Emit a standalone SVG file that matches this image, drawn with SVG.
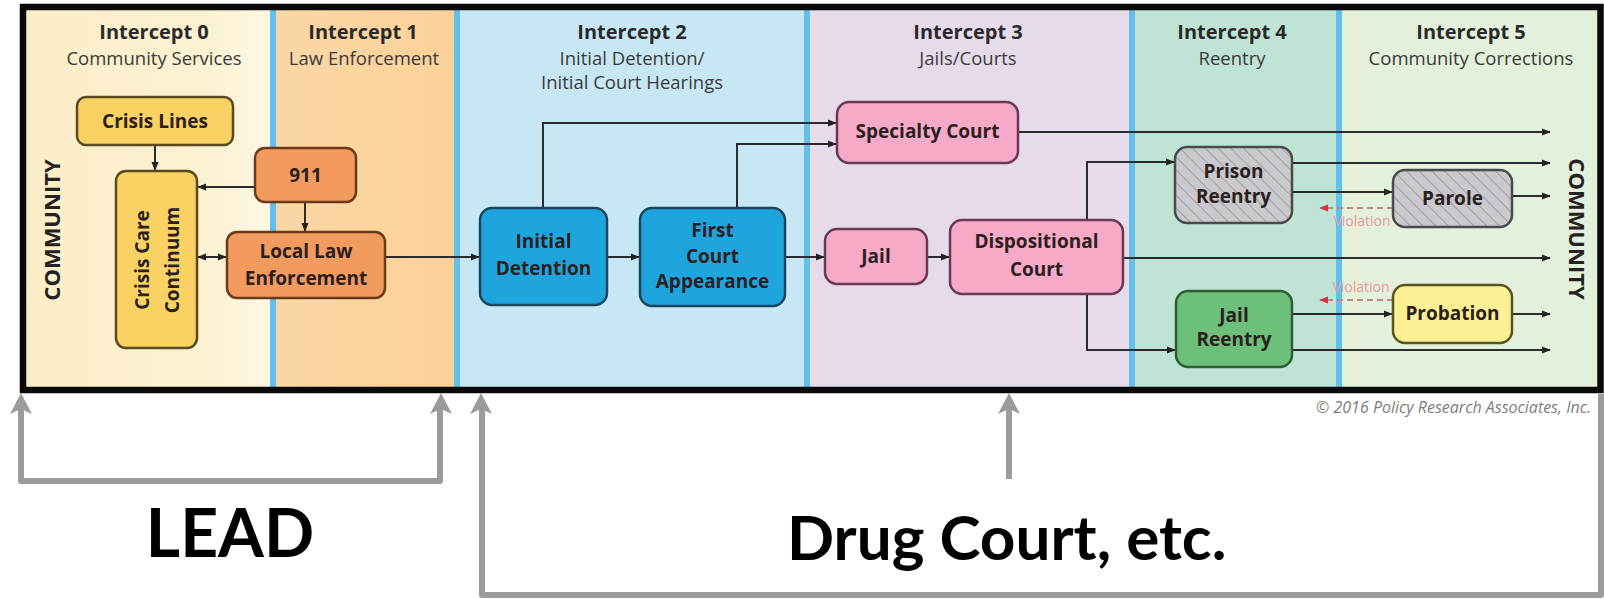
<svg xmlns="http://www.w3.org/2000/svg" width="1604" height="599" viewBox="0 0 1604 599">
<defs>
  <linearGradient id="g0" x1="0" x2="1" y1="0" y2="0">
    <stop offset="0" stop-color="#fbeec8"/>
    <stop offset="0.75" stop-color="#fcf1d2"/>
    <stop offset="1" stop-color="#fdf7e5"/>
  </linearGradient>
  <linearGradient id="g1" x1="0" x2="1" y1="0" y2="0">
    <stop offset="0" stop-color="#fbd7a6"/>
    <stop offset="1" stop-color="#fbd198"/>
  </linearGradient>
  <pattern id="hatch" patternUnits="userSpaceOnUse" width="9" height="9" patternTransform="rotate(-45)">
    <rect width="9" height="9" fill="#cacace"/>
    <line x1="0" y1="0" x2="0" y2="9" stroke="#9d9da3" stroke-width="2"/>
  </pattern>
  <marker id="arr" viewBox="0 0 10 10" refX="9" refY="5" markerWidth="9" markerHeight="9" markerUnits="userSpaceOnUse" orient="auto-start-reverse">
    <path d="M0,1 L10,5 L0,9 z" fill="#222"/>
  </marker>
  <marker id="arrR" viewBox="0 0 10 10" refX="9" refY="5" markerWidth="9" markerHeight="9" markerUnits="userSpaceOnUse" orient="auto">
    <path d="M0,1 L10,5 L0,9 z" fill="#d3303f"/>
  </marker>
  <style>
    .hd{font-family:"Open Sans","DejaVu Sans",sans-serif;font-weight:700;font-size:20px;fill:#2a2a2a;text-anchor:middle}
    .sub{font-family:"Open Sans","DejaVu Sans",sans-serif;font-size:18.5px;fill:#3a3a3a;text-anchor:middle}
    .lbl{font-family:"Open Sans","DejaVu Sans",sans-serif;font-weight:700;font-size:19px;fill:#2b2020;text-anchor:middle}
    .com{font-family:"Open Sans","DejaVu Sans",sans-serif;font-weight:700;font-size:22px;fill:#222;text-anchor:middle}
    .vio{font-family:"Open Sans","DejaVu Sans",sans-serif;font-size:14px;fill:#e59aa6;text-anchor:middle}
    .c{fill:none;stroke:#2b2b2b;stroke-width:2}
    .v{fill:none;stroke:#b98a8e;stroke-width:2;stroke-dasharray:6 4}
    .n{stroke-width:2.5}
    .yel{fill:#f9d263;stroke:#5b4a1e}
    .ora{fill:#f39a5e;stroke:#6a3a1a}
    .blu{fill:#1fa5dd;stroke:#17475e}
    .pnk{fill:#f6aac8;stroke:#6b3852}
    .gry{fill:url(#hatch);stroke:#4a4a4e}
    .grn{fill:#6cc079;stroke:#2f5e33}
    .lyl{fill:#fbf094;stroke:#5a5420}
    .br{fill:none;stroke:#9b9b9b;stroke-width:6;stroke-linejoin:round}
    .big{font-family:Lato,"Open Sans",sans-serif;font-weight:700;fill:#000}
  </style>
</defs>
<rect width="1604" height="599" fill="#fff"/>

<g id="sections">
  <rect x="23" y="7" width="247" height="383" fill="url(#g0)"/>
  <rect x="270" y="7" width="6" height="383" fill="#62c0ec"/>
  <rect x="276" y="7" width="178" height="383" fill="url(#g1)"/>
  <rect x="454" y="7" width="6" height="383" fill="#62c0ec"/>
  <rect x="460" y="7" width="344" height="383" fill="#c8e7f5"/>
  <rect x="804" y="7" width="6" height="383" fill="#62c0ec"/>
  <rect x="810" y="7" width="319" height="383" fill="#e6dbeb"/>
  <rect x="1129" y="7" width="6" height="383" fill="#62c0ec"/>
  <rect x="1135" y="7" width="201" height="383" fill="#bfe4d6"/>
  <rect x="1336" y="7" width="6" height="383" fill="#62c0ec"/>
  <rect x="1342" y="7" width="258" height="383" fill="#e3f0dc"/>
  <rect x="1355" y="7" width="3" height="383" fill="#f1eccb"/>
</g>

<g id="headers">
  <text class="hd" x="154" y="39">Intercept 0</text>
  <text class="sub" x="154" y="65">Community Services</text>
  <text class="hd" x="363" y="39">Intercept 1</text>
  <text class="sub" x="364" y="65">Law Enforcement</text>
  <text class="hd" x="632" y="39">Intercept 2</text>
  <text class="sub" x="632" y="65">Initial Detention/</text>
  <text class="sub" x="632" y="89">Initial Court Hearings</text>
  <text class="hd" x="968" y="39">Intercept 3</text>
  <text class="sub" x="968" y="65">Jails/Courts</text>
  <text class="hd" x="1232" y="39">Intercept 4</text>
  <text class="sub" x="1232" y="65">Reentry</text>
  <text class="hd" x="1471" y="39">Intercept 5</text>
  <text class="sub" x="1471" y="65">Community Corrections</text>
  <text class="com" transform="translate(60,230) rotate(-90)">COMMUNITY</text>
  <text class="com" transform="translate(1569,229) rotate(90)">COMMUNITY</text>
</g>

<g id="connectors">
  <path class="c" d="M155,145 V170" marker-end="url(#arr)"/>
  <path class="c" d="M255,187 H198" marker-end="url(#arr)"/>
  <path class="c" d="M305,202 V231" marker-end="url(#arr)"/>
  <path class="c" d="M198,257 H226" marker-start="url(#arr)" marker-end="url(#arr)"/>
  <path class="c" d="M385,257 H479" marker-end="url(#arr)"/>
  <path class="c" d="M607,257 H639" marker-end="url(#arr)"/>
  <path class="c" d="M785,257 H824" marker-end="url(#arr)"/>
  <path class="c" d="M927,257 H949" marker-end="url(#arr)"/>
  <path class="c" d="M543,208 V123 H836" marker-end="url(#arr)"/>
  <path class="c" d="M737,208 V144 H836" marker-end="url(#arr)"/>
  <path class="c" d="M1018,132 H1550" marker-end="url(#arr)"/>
  <path class="c" d="M1087,220 V162 H1174" marker-end="url(#arr)"/>
  <path class="c" d="M1123,258 H1550" marker-end="url(#arr)"/>
  <path class="c" d="M1087,294 V350 H1175" marker-end="url(#arr)"/>
  <path class="c" d="M1292,163 H1550" marker-end="url(#arr)"/>
  <path class="c" d="M1292,192 H1392" marker-end="url(#arr)"/>
  <path class="c" d="M1512,196 H1550" marker-end="url(#arr)"/>
  <path class="c" d="M1292,314 H1392" marker-end="url(#arr)"/>
  <path class="c" d="M1512,314 H1550" marker-end="url(#arr)"/>
  <path class="c" d="M1292,350 H1550" marker-end="url(#arr)"/>
  <path class="v" d="M1393,208 H1320" marker-end="url(#arrR)"/>
  <path class="v" d="M1393,300 H1320" marker-end="url(#arrR)"/>
  <text class="vio" x="1362" y="226">Violation</text>
  <text class="vio" x="1361" y="292">Violation</text>
</g>

<g id="crisis-lines"><rect class="n yel" x="77" y="97" width="156" height="48" rx="9"/><text class="lbl" x="155" y="128">Crisis Lines</text></g>
<g id="crisis-care"><rect class="n yel" x="116" y="171" width="81" height="177" rx="10"/>
  <text class="lbl" transform="translate(156.5,260) rotate(-90)" font-size="20"><tspan x="0" y="-8">Crisis Care</tspan><tspan x="0" y="22">Continuum</tspan></text></g>
<g id="n911"><rect class="n ora" x="255" y="148" width="101" height="54" rx="10"/><text class="lbl" x="305.5" y="182">911</text></g>
<g id="local-law"><rect class="n ora" x="227" y="232" width="158" height="66" rx="10"/><text class="lbl" x="306" y="258">Local Law</text><text class="lbl" x="306" y="285">Enforcement</text></g>
<g id="initial-detention"><rect class="n blu" x="480" y="208" width="127" height="97" rx="12"/><text class="lbl" x="543.5" y="248">Initial</text><text class="lbl" x="543.5" y="275">Detention</text></g>
<g id="first-court"><rect class="n blu" x="640" y="208" width="145" height="98" rx="12"/><text class="lbl" x="712.5" y="237">First</text><text class="lbl" x="712.5" y="263">Court</text><text class="lbl" x="712.5" y="288">Appearance</text></g>
<g id="specialty-court"><rect class="n pnk" x="837" y="102" width="181" height="61" rx="12"/><text class="lbl" x="927.5" y="138">Specialty Court</text></g>
<g id="jail"><rect class="n pnk" x="825" y="229" width="102" height="55" rx="12"/><text class="lbl" x="876" y="263">Jail</text></g>
<g id="dispositional-court"><rect class="n pnk" x="950" y="220" width="173" height="74" rx="12"/><text class="lbl" x="1036.5" y="248">Dispositional</text><text class="lbl" x="1036.5" y="276">Court</text></g>
<g id="prison-reentry"><rect class="n gry" x="1175" y="147" width="117" height="76" rx="12"/><text class="lbl" x="1233.5" y="178">Prison</text><text class="lbl" x="1233.5" y="203">Reentry</text></g>
<g id="parole"><rect class="n gry" x="1393" y="170" width="119" height="57" rx="12"/><text class="lbl" x="1452.5" y="205">Parole</text></g>
<g id="jail-reentry"><rect class="n grn" x="1176" y="291" width="116" height="76" rx="12"/><text class="lbl" x="1234" y="322">Jail</text><text class="lbl" x="1234" y="346">Reentry</text></g>
<g id="probation"><rect class="n lyl" x="1393" y="285" width="119" height="58" rx="12"/><text class="lbl" x="1452.5" y="320">Probation</text></g>

<rect id="frame" x="23" y="7" width="1577.5" height="383" fill="none" stroke="#0a0a0a" stroke-width="6.5"/>

<text x="1316" y="413" font-family="'Open Sans','DejaVu Sans',sans-serif" font-style="italic" font-size="16" fill="#7d7d7d">© 2016 Policy Research Associates, Inc.</text>

<g id="lead-bracket">
  <path class="br" d="M21,408 V481 H440 V408"/>
  <path d="M21,393 L10,414 L21,409 L32,414 Z" fill="#9b9b9b"/>
  <path d="M441,393 L430,414 L441,409 L452,414 Z" fill="#9b9b9b"/>
  <text class="big" x="230" y="557" font-size="66" text-anchor="middle">LEAD</text>
</g>
<g id="drug-court-bracket">
  <path class="br" d="M482,408 V595 H1601 V394"/>
  <path d="M481,393 L470,414 L481,409 L492,414 Z" fill="#9b9b9b"/>
  <path class="br" d="M1009,408 V479"/>
  <path d="M1009,393 L998,414 L1009,409 L1020,414 Z" fill="#9b9b9b"/>
  <text class="big" x="787" y="560" font-size="62">Drug Court, etc.</text>
</g>
</svg>
